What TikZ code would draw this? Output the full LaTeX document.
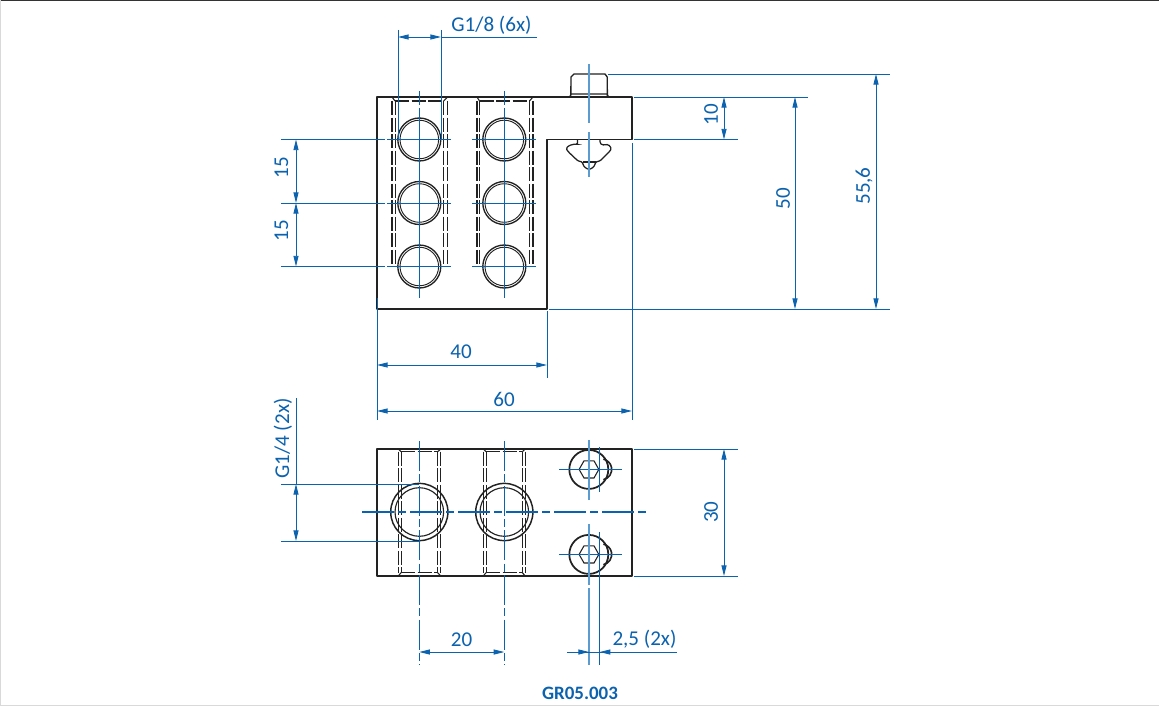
\documentclass[tikz,border=0pt]{standalone}
\usepackage{fontspec}
\setmainfont{Carlito}
\usetikzlibrary{arrows.meta}
\definecolor{dimblue}{HTML}{0B62AE}
\definecolor{cl}{HTML}{5B9BD0}
\definecolor{ink}{HTML}{222222}
\tikzset{
  body/.style={draw=ink,line width=1pt,line join=round},
  thin body/.style={draw=ink,line width=0.8pt},
  hidden/.style={draw=ink,line width=0.85pt,dash pattern=on 10.5pt off 1.9pt},
  ext/.style={draw=dimblue,line width=0.65pt},
  axis/.style={draw=dimblue,line width=0.65pt},
  dim/.style={draw=dimblue,line width=0.65pt,{Triangle[length=8pt,width=3.8pt,fill=dimblue]}-{Triangle[length=8pt,width=3.8pt,fill=dimblue]}},
  tipped/.style={draw=dimblue,line width=0.65pt,-{Triangle[length=8pt,width=3.8pt,fill=dimblue]}},
  lab/.style={text=dimblue,font=\fontsize{15.8pt}{17pt}\selectfont,inner sep=0pt},
  vlab/.style={lab,rotate=90},
}
\begin{document}
\begin{tikzpicture}[x=0.75pt,y=-0.75pt]
\useasboundingbox (0,0) rectangle (1159,706);
% frame
\fill[white] (0,0) rectangle (1159,706);
\draw[draw=black!80,line width=0.9pt] (0,0.6) -- (1159,0.6);
\draw[draw=black!15,line width=0.6pt] (0.4,0) -- (0.4,706) (0,705.6) -- (1159,705.6);

%% ---- top view ----
\draw[body] (377,97) -- (632,97) -- (632,139.5) -- (547,139.5) -- (547,309) -- (377,309) -- cycle;
% bolt
\draw[body] (570.8,97) -- (571,77) -- (574,74) -- (605,74) -- (607.2,77) -- (607.4,97);
\draw[thin body] (571,94) -- (607,94) (571,94) -- (569.5,97) (607,94) -- (608.7,97);
% T nut
\draw[thin body,line width=0.95pt,rounded corners=1pt]
  (577.5,139.5) -- (577.5,144.5) -- (575,144) -- (569,145.5) -- (566,148.5) -- (568.5,152)
  -- (578,161) -- (582.5,162) -- (583,165) -- (586,168.5) -- (589,169.2) -- (592,168.5) -- (595,165) -- (595.5,162)
  -- (600,161) -- (610,151) -- (611.5,148.5) -- (608.5,144.5) -- (602,145) -- (600,143) -- (600,139.5);
\draw[thin body] (582.5,162) -- (595.5,162);
\draw[body,line width=1.4pt] (577.5,139.5) -- (600,139.5);
% holes top view
\foreach \cx/\a/\b/\c/\d in {419.3/392/395/443.5/447.5, 504.3/477/479.5/529.5/533}{
  \draw[hidden] (\a,101) -- (\a,267) (\d,101) -- (\d,267);
  \draw[hidden,line width=0.6pt] (\b,101) -- (\b,267) (\c,101) -- (\c,267);
  \draw[thin body] (\a,97) -- (\b,101) (\d,97) -- (\c,101);
  \draw[hidden] (\b,101) -- (\c,101);
  \foreach \cy in {139.5,203,266.5}{
    \fill[white] (\cx,\cy) circle (21.5);
    \draw[thin body,line width=1pt] (\cx,\cy) circle (21.5);
    \draw[thin body,line width=0.7pt] (\cx,\cy) circle (19.3);
  }
  \draw[axis] (\cx,91) -- (\cx,105) (\cx,108) -- (\cx,298);
  \draw[axis] (\cx-32,139.5) -- (\cx+32,139.5) (\cx-32,203) -- (\cx+32,203) (\cx-32,266.5) -- (\cx+32,266.5);
}
\draw[ext] (281,139.5) -- (385,139.5) (281,203) -- (385,203) (281,266.5) -- (385,266.5);
\draw[dim] (296,139.5) -- (296,203);
\draw[dim] (296,203) -- (296,266.5);
\node[vlab] (d15a) at (281.5,168) {15};
\node[vlab] (d15b) at (281.5,231) {15};
% G1/8
\draw[ext] (398,30) -- (398,139.5) (441,30) -- (441,139.5);
\draw[dim] (398,37) -- (441,37);
\draw[ext] (441,37) -- (537,37);
\node[lab] (g18) at (491.5,25.5) {G1/8 (6x)};
% bolt axis
\draw[draw=cl,line width=0.8pt] (589,64.5) -- (589,123.5) (589,132) -- (589,177);
% right dims
\draw[ext] (608,74) -- (890,74);
\draw[ext] (634,97) -- (808,97);
\draw[ext] (634,139.5) -- (738,139.5);
\draw[ext] (549,309) -- (890,309);
\draw[dim] (724,97) -- (724,139.5);
\draw[dim] (795,97) -- (795,309);
\draw[dim] (876,74) -- (876,309);
\node[vlab] (d10) at (711,115) {10};
\node[vlab] (d50) at (783,199) {50};
\node[vlab] (d556) at (864,186) {55,6};
% 40 / 60
\draw[ext] (377,298) -- (377,420) (547,311) -- (547,378) (632,143) -- (632,420);
\draw[dim] (377,365) -- (547,365);
\draw[dim] (377,411) -- (632,411);
\node[lab] (d40) at (461,351.5) {40};
\node[lab] (d60) at (504,399.5) {60};

%% ---- bottom view ----
\draw[body] (377,449) rectangle (632,576);
\foreach \cx/\a/\b/\c/\d in {419.3/398.3/401/437.7/440.7, 504.3/483.3/486/522.3/525.3}{
  \draw[hidden] (\a,451.7) -- (\a,573) (\d,451.7) -- (\d,573);
  \draw[hidden,line width=0.6pt] (\b,451.7) -- (\b,573) (\c,451.7) -- (\c,573);
  \draw[thin body] (\a,449) -- (\b,451.7) (\d,449) -- (\c,451.7) (\a,576) -- (\b,572.7) (\d,576) -- (\c,572.7);
  \draw[hidden] (\b,451.7) -- (\c,451.7) (\b,572.7) -- (\c,572.7);
  \draw[thin body,line width=1.1pt] (\cx,512) circle (28.6);
  \draw[thin body,line width=0.85pt] (\cx,512) circle (24.3);
  \draw[draw=dimblue,line width=0.65pt,dash pattern=on 22.5pt off 2.5pt on 6pt off 2.5pt] (\cx,441) -- (\cx,665);
}
\draw[draw=dimblue,line width=0.8pt,dash pattern=on 24pt off 3pt on 6pt off 3pt] (362,512) -- (649,512);
% screws
\foreach \cy in {469.4,554.4}{
  \fill[white] (588.8,\cy) circle (19.5);
  \draw[body,line width=1.2pt] (601.2,\cy) ++(78:10.5) arc (78:-78:10.5);
  \draw[body,line width=1.3pt] (588.8,\cy) circle (19.5);
  \draw[thin body] (579.1,\cy) -- (584,\cy-8.6) -- (594,\cy-8.6) -- (598.8,\cy) -- (594,\cy+8.6) -- (584,\cy+8.6) -- cycle;
  \draw[axis] (559,\cy) -- (622,\cy);
}
\draw[draw=cl,line width=0.9pt] (589,440) -- (589,500) (589,524) -- (589,585) (589,588) -- (589,665);
\draw[axis] (599.7,447) -- (599.7,492) (599.7,532) -- (599.7,665);
% G1/4
\draw[ext] (281,484) -- (419,484) (281,541) -- (419,541);
\draw[dim] (296,484) -- (296,541);
\draw[ext] (296,398) -- (296,484);
\node[vlab] (g14) at (283,438.5) {G1/4 (2x)};
% 30
\draw[ext] (634,449) -- (738,449) (634,576) -- (738,576);
\draw[dim] (724,449) -- (724,576);
\node[vlab] (d30) at (711,512) {30};
% 20
\draw[dim] (419.3,652) -- (504.3,652);
\node[lab] (d20) at (461.5,639.5) {20};
% 2,5
\draw[ext] (567,652) -- (677,652);
\draw[tipped] (578,652) -- (589,652);
\draw[tipped] (611,652) -- (599.7,652);
\node[lab] (d25) at (644.5,639.5) {2,5 (2x)};
% title
\node[text=dimblue,font=\fontsize{14.2pt}{15pt}\selectfont\bfseries,inner sep=0pt] (title) at (580,693) {GR05.003};
\end{tikzpicture}
\end{document}
